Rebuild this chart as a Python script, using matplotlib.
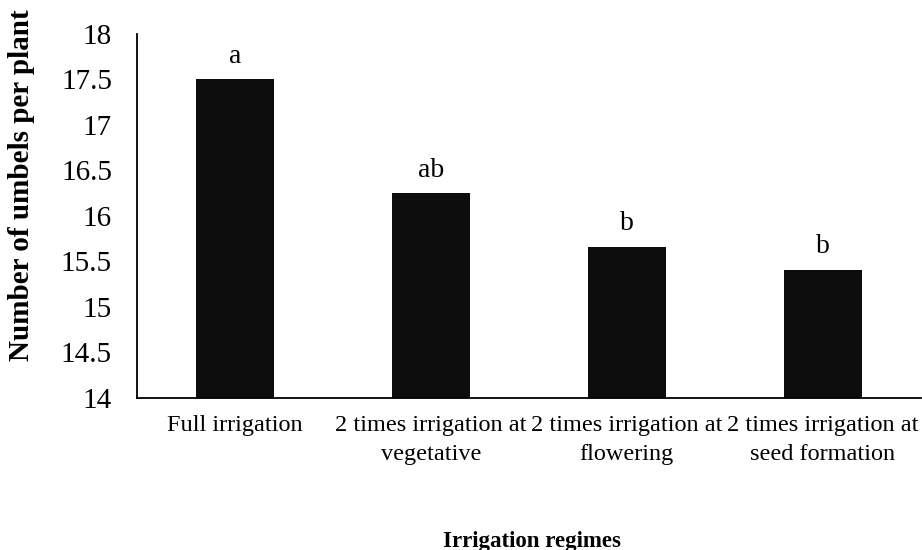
import matplotlib
matplotlib.use("Agg")
import matplotlib.pyplot as plt
import numpy as np

categories = ["Full irrigation",
              "2 times irrigation at\nvegetative",
              "2 times irrigation at\nflowering",
              "2 times irrigation at\nseed formation"]
values = [17.5, 16.25, 15.66, 15.41]
letters = ["a", "ab", "b", "b"]
yticks = [14, 14.5, 15, 15.5, 16, 16.5, 17, 17.5, 18]

plt.rcParams['font.family'] = ['Liberation Serif', 'DejaVu Serif']

fig = plt.figure(figsize=(9.22, 5.5), dpi=100)
ax = fig.add_axes([0.1486, 0.2764, 0.85, 0.662])

x = np.arange(len(categories))
ax.bar(x, [v - 14 for v in values], bottom=14, width=0.4, color="#0d0d0d")
for xi, v, l in zip(x, values, letters):
    ax.text(xi, v + 0.18, l, ha="center", va="baseline", fontsize=20)

ax.set_xlim(-0.5, 3.5)
ax.set_ylim(14, 18)
ax.set_yticks(yticks)
ax.set_yticklabels([f"{t:g}" for t in yticks], fontsize=21)
ax.set_xticks(x)
ax.set_xticklabels(categories, fontsize=17.5, linespacing=1.5)
ax.tick_params(axis="y", length=0, pad=18)
ax.tick_params(axis="x", length=0, pad=12)

for s in ["top", "right"]:
    ax.spines[s].set_visible(False)
ax.spines["left"].set_linewidth(1.3)
ax.spines["bottom"].set_linewidth(1.3)

fig.text(0.023, 0.664, "Number of umbels per plant", fontsize=21, fontweight="bold",
         rotation=90, ha="center", va="center")
fig.text(0.577, 0.016, "Irrigation regimes", fontsize=16.5, fontweight="bold",
         ha="center", va="center")

fig.savefig("out.png", dpi=100)
